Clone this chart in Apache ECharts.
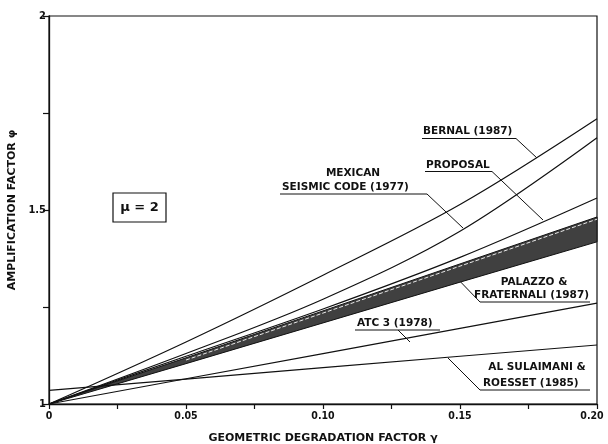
<!DOCTYPE html>
<html>
<head>
<meta charset="utf-8">
<script src="https://cdn.jsdelivr.net/npm/echarts@6/dist/echarts.min.js"></script>
<style>
  html, body { margin: 0; padding: 0; background: #fff; }
  #chart { width: 608px; height: 444px; }
</style>
</head>
<body>
<div id="chart"></div>
<script>
// Amplification factor phi vs geometric degradation factor gamma (mu = 2)
const gamma        = [0, 0.05, 0.10, 0.15, 0.20];
const bernal       = [1, 1.160, 1.332, 1.514, 1.735];
const mexican      = [1, 1.130, 1.270, 1.445, 1.686];
const proposal     = [1, 1.123, 1.245, 1.378, 1.531];
const palazzoUpper = [1, 1.119, 1.240, 1.361, 1.482];
const palazzoLower = [1, 1.104, 1.209, 1.314, 1.418];
const atc3         = [1, 1.065, 1.130, 1.195, 1.260];
const alSulaimani  = [1.035, 1.064, 1.094, 1.123, 1.152];

const xTickLabels = { 0: '0', 0.05: '0.05', 0.1: '0.10', 0.15: '0.15', 0.2: '0.20' };
const yTickLabels = { 1: '1', 1.5: '1.5', 2: '2' };

const INK = '#111';
const FONT = '"DejaVu Sans", sans-serif';
const TICK_FONT = '"DejaVu Sans Condensed", "DejaVu Sans", sans-serif';

function pts(arr) { return gamma.map((g, i) => [g, arr[i]]); }

function curve(name, arr, smooth) {
  return {
    name: name, type: 'line', data: pts(arr), smooth: smooth ? 0.35 : false,
    showSymbol: false, silent: true, animation: false,
    lineStyle: { color: INK, width: 1.2 }
  };
}

const chart = echarts.init(document.getElementById('chart'), null, { renderer: 'canvas' });

// shaded band between the two Palazzo & Fraternali bounds
const bandSeries = {
  type: 'custom', silent: true, animation: false,
  data: [[0, 1]],
  renderItem: function (params, api) {
    const up = gamma.map((g, i) => api.coord([g, palazzoUpper[i]]));
    const lo = gamma.map((g, i) => api.coord([g, palazzoLower[i]]));
    const poly = up.concat(lo.slice().reverse());
    const inner = up.map(p => [p[0], p[1] + 2.2]).slice(1);
    return {
      type: 'group',
      children: [
        { type: 'polygon', shape: { points: poly },
          style: { fill: '#404040', stroke: INK, lineWidth: 1 } },
        { type: 'polyline', shape: { points: inner },
          style: { stroke: '#e8e8e8', lineWidth: 1, lineDash: [4, 2], fill: null } }
      ]
    };
  }
};

function label(text, x, y, align) {
  return { type: 'text', silent: true,
    style: { text: text, x: x, y: y, fill: INK, font: 'bold 10.5px ' + FONT,
             textAlign: align || 'left', textVerticalAlign: 'middle' } };
}
function leader(points) {
  return { type: 'polyline', silent: true,
    shape: { points: points }, style: { stroke: INK, lineWidth: 1, fill: null } };
}

chart.setOption({
  backgroundColor: '#fff',
  animation: false,
  grid: { left: 49, right: 11, top: 16, bottom: 40, show: true,
          containLabel: false, outerBoundsMode: 'none',
          borderColor: INK, borderWidth: 1.2, backgroundColor: 'transparent' },
  xAxis: {
    type: 'value', min: 0, max: 0.2, interval: 0.05,
    name: 'GEOMETRIC DEGRADATION FACTOR γ', nameLocation: 'middle', nameGap: 29,
    nameTextStyle: { color: INK, fontFamily: FONT, fontSize: 11, fontWeight: 'bold' },
    axisLine: { lineStyle: { color: INK, width: 1.3 } },
    axisTick: { show: true, length: 5, lineStyle: { color: INK, width: 1.2 } },
    minorTick: { show: true, splitNumber: 2, length: 5, lineStyle: { color: INK, width: 1.2 } },
    splitLine: { show: false },
    axisLabel: {
      color: INK, fontFamily: TICK_FONT, fontSize: 10.5, fontWeight: 'bold', margin: 7,
      formatter: function (v) {
        const key = Math.round(v * 1000) / 1000;
        const txt = xTickLabels[key] || '';
        return key === 0.2 ? '{last|' + txt + '}' : txt;
      },
      rich: { last: { color: INK, fontFamily: TICK_FONT, fontSize: 10.5, fontWeight: 'bold',
                      padding: [0, 10, 0, 0] } }
    }
  },
  yAxis: {
    type: 'value', min: 1, max: 2, interval: 0.5,
    name: 'AMPLIFICATION FACTOR φ', nameLocation: 'middle', nameGap: 28, nameRotate: 90,
    nameTextStyle: { color: INK, fontFamily: FONT, fontSize: 11, fontWeight: 'bold' },
    axisLine: { show: true, lineStyle: { color: INK, width: 1.3 } },
    axisTick: { show: true, length: 6, lineStyle: { color: INK, width: 1.2 } },
    minorTick: { show: true, splitNumber: 2, length: 6, lineStyle: { color: INK, width: 1.2 } },
    splitLine: { show: false },
    axisLabel: { color: INK, fontFamily: TICK_FONT, fontSize: 11, fontWeight: 'bold', margin: 3,
                 formatter: v => yTickLabels[Math.round(v * 100) / 100] || '' }
  },
  series: [
    bandSeries,
    curve('BERNAL (1987)', bernal, true),
    curve('MEXICAN SEISMIC CODE (1977)', mexican, true),
    curve('PROPOSAL', proposal, true),
    curve('ATC 3 (1978)', atc3, false),
    curve('AL SULAIMANI & ROESSET (1985)', alSulaimani, false)
  ],
  graphic: [
    // mu box
    { type: 'rect', silent: true, shape: { x: 113, y: 193, width: 53, height: 29 },
      style: { fill: '#fff', stroke: INK, lineWidth: 1.2 } },
    { type: 'text', silent: true,
      style: { text: 'μ = 2', x: 139.5, y: 208, fill: INK, font: 'bold 13px ' + FONT,
               textAlign: 'center', textVerticalAlign: 'middle' } },

    // BERNAL
    label('BERNAL (1987)', 423, 131),
    leader([[422, 138.5], [516, 138.5], [537, 158]]),

    // PROPOSAL
    label('PROPOSAL', 426, 165),
    leader([[425, 171.5], [492, 171.5], [543, 220]]),

    // MEXICAN SEISMIC CODE
    label('MEXICAN', 353, 173, 'center'),
    label('SEISMIC CODE (1977)', 282, 187),
    leader([[280, 194], [427, 194], [463, 228]]),

    // PALAZZO & FRATERNALI
    label('PALAZZO &', 534, 282, 'center'),
    label('FRATERNALI (1987)', 589, 295, 'right'),
    leader([[590, 302], [480, 302], [451, 272]]),

    // ATC 3
    label('ATC 3 (1978)', 357, 323),
    leader([[355, 330], [440, 330]]),
    leader([[398, 330], [410, 342]]),

    // AL SULAIMANI & ROESSET
    label('AL SULAIMANI &', 537, 367, 'center'),
    label('ROESSET (1985)', 483, 383),
    leader([[590, 390], [480, 390], [448, 358]])
  ]
});
</script>
</body>
</html>
